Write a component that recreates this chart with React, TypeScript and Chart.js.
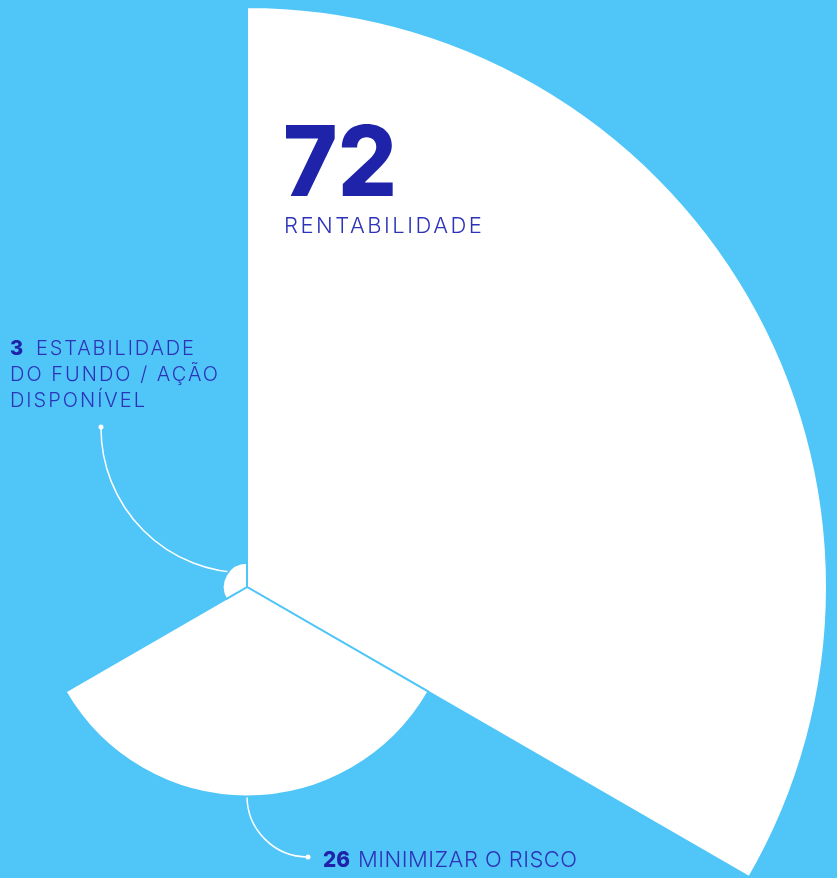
import { useEffect, useRef } from "react";
import { Chart, registerables } from "chart.js";

Chart.register(...registerables);

const categories = ["RENTABILIDADE", "MINIMIZAR O RISCO", "ESTABILIDADE DO FUNDO / AÇÃO DISPONÍVEL"];
const values = [72, 26, 3];
const scaleMax = 72;

const BG = "#50C5F8";
const NUM = "#1F23AA";
const TXT = "#2D33B8";

const SIZE = 1160;
const LEFT = -333;
const TOP = 7;
const CX0 = 247;
const CY0 = 587;

function drawFit(ctx: CanvasRenderingContext2D, str: string, x: number, y: number, font: string, color: string, target?: number) {
  ctx.save();
  ctx.font = font;
  ctx.fillStyle = color;
  ctx.textBaseline = "alphabetic";
  ctx.textAlign = "left";
  const anyCtx = ctx as any;
  if ("letterSpacing" in anyCtx) anyCtx.letterSpacing = "0px";
  if (target && "letterSpacing" in anyCtx) {
    const w = ctx.measureText(str).width;
    const ls = (target - w) / Math.max(1, str.length - 1);
    anyCtx.letterSpacing = ls.toFixed(2) + "px";
  }
  ctx.fillText(str, x, y);
  ctx.restore();
}

function drawScaled(ctx: CanvasRenderingContext2D, str: string, x: number, y: number, font: string, color: string, target: number) {
  ctx.save();
  ctx.font = font;
  ctx.fillStyle = color;
  ctx.textBaseline = "alphabetic";
  ctx.textAlign = "left";
  const w = ctx.measureText(str).width;
  ctx.translate(x, y);
  ctx.scale(target / w, 1);
  ctx.fillText(str, 0, 0);
  ctx.restore();
}

const overlay = {
  id: "overlay",
  beforeDatasetsDraw(chart: any) {
    const s = chart.scales.r;
    const cx = s.xCenter, cy = s.yCenter;
    const P = (px: number, py: number) => [cx + (px - CX0), cy + (py - CY0)];
    const ctx = chart.ctx as CanvasRenderingContext2D;
    ctx.save();
    ctx.strokeStyle = "#ffffff";
    ctx.fillStyle = "#ffffff";
    ctx.lineWidth = 1.5;
    let [ax, ay] = P(246, 428);
    ctx.beginPath();
    ctx.arc(ax, ay, 145, Math.PI, Math.PI / 2, true);
    ctx.stroke();
    let [dx, dy] = P(101, 427);
    ctx.beginPath();
    ctx.arc(dx, dy, 2.5, 0, Math.PI * 2);
    ctx.fill();
    [ax, ay] = P(308, 796);
    ctx.beginPath();
    ctx.arc(ax, ay, 61, Math.PI, Math.PI / 2, true);
    ctx.stroke();
    [dx, dy] = P(308, 857);
    ctx.beginPath();
    ctx.arc(dx, dy, 2.5, 0, Math.PI * 2);
    ctx.fill();
    ctx.restore();
  },
  afterDatasetsDraw(chart: any) {
    const s = chart.scales.r;
    const cx = s.xCenter, cy = s.yCenter;
    const P = (px: number, py: number) => [cx + (px - CX0), cy + (py - CY0)];
    const ctx = chart.ctx as CanvasRenderingContext2D;
    const light = "300 22px Inter, 'Noto Sans', sans-serif";
    const light20 = "300 20px Inter, 'Noto Sans', sans-serif";
    let [x, y] = P(283, 196);
    drawScaled(ctx, String(values[0]), x, y, "800 97px Inter, 'Noto Sans', sans-serif", NUM, 114);
    [x, y] = P(284, 233);
    drawFit(ctx, categories[0], x, y, light, TXT, 198);
    [x, y] = P(10, 355);
    drawFit(ctx, String(values[2]), x, y, "800 20px Inter, 'Noto Sans', sans-serif", NUM);
    [x, y] = P(36, 355);
    drawFit(ctx, "ESTABILIDADE", x, y, light20, TXT, 158);
    [x, y] = P(10, 381);
    drawFit(ctx, "DO FUNDO / AÇÃO", x, y, light20, TXT, 208);
    [x, y] = P(10, 407);
    drawFit(ctx, "DISPONÍVEL", x, y, light20, TXT, 135);
    [x, y] = P(323, 867);
    drawScaled(ctx, String(values[1]), x, y, "800 22px Inter, 'Noto Sans', sans-serif", NUM, 27);
    [x, y] = P(358, 867);
    drawFit(ctx, categories[1], x, y, light, TXT, 219);
  },
};

export default function App() {
  const ref = useRef<HTMLCanvasElement | null>(null);
  useEffect(() => {
    if (!ref.current) return;
    const chart = new Chart(ref.current, {
      type: "polarArea",
      data: {
        labels: categories,
        datasets: [
          {
            data: values,
            backgroundColor: "#ffffff",
            borderColor: BG,
            borderWidth: 2,
          },
        ],
      },
      options: {
        responsive: false,
        animation: false,
        layout: { padding: 0 },
        plugins: { legend: { display: false }, tooltip: { enabled: false } },
        scales: {
          r: {
            min: 0,
            max: scaleMax,
            ticks: { display: false },
            grid: { display: false },
            angleLines: { display: false },
            pointLabels: { display: false },
          },
        },
      },
      plugins: [overlay],
    });
    return () => chart.destroy();
  }, []);
  return (
    <div style={{ position: "fixed", inset: 0, overflow: "hidden", background: BG }}>
      <canvas
        ref={ref}
        width={SIZE}
        height={SIZE}
        style={{ position: "absolute", left: LEFT, top: TOP, width: SIZE, height: SIZE }}
      />
    </div>
  );
}
